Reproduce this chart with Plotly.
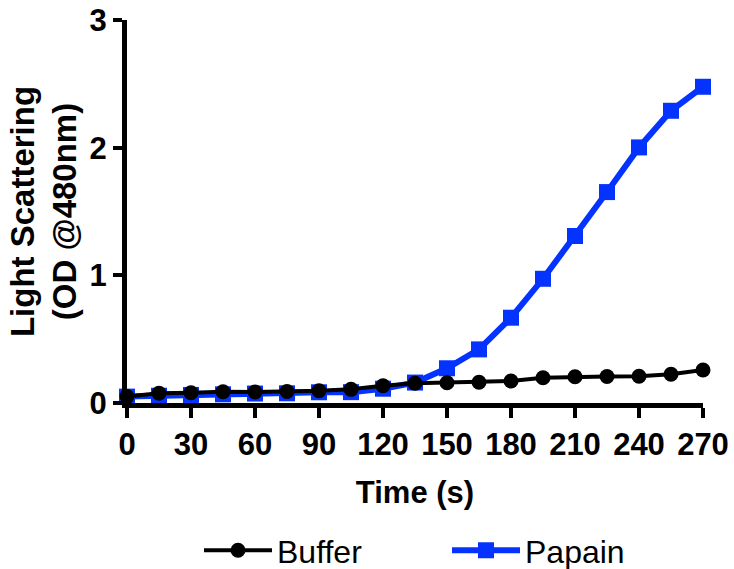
import plotly.graph_objects as go

# Time points (s) and light scattering readings (OD @480nm)
time_s = [0, 15, 30, 45, 60, 75, 90, 105, 120, 135, 150, 165, 180, 195, 210, 225, 240, 255, 270]
buffer_od = [0.05, 0.076, 0.08, 0.088, 0.086, 0.09, 0.096, 0.107, 0.135, 0.155, 0.159, 0.162,
             0.172, 0.198, 0.206, 0.207, 0.21, 0.225, 0.258]
papain_od = [0.05, 0.057, 0.063, 0.068, 0.074, 0.076, 0.084, 0.085, 0.112, 0.16, 0.272, 0.42,
             0.668, 0.973, 1.308, 1.652, 2.002, 2.289, 2.477]

x_ticks = [0, 30, 60, 90, 120, 150, 180, 210, 240, 270]
y_ticks = [0, 1, 2, 3]

BLUE = "#0433FF"
AXIS_FONT = "Liberation Sans, Arial, Helvetica, sans-serif"

fig = go.Figure()

fig.add_trace(go.Scatter(
    x=time_s, y=papain_od, name="Papain", mode="lines+markers",
    line=dict(color=BLUE, width=6),
    marker=dict(symbol="square", size=16, color=BLUE),
    cliponaxis=False, legendrank=2,
))
fig.add_trace(go.Scatter(
    x=time_s, y=buffer_od, name="Buffer", mode="lines+markers",
    line=dict(color="black", width=4),
    marker=dict(symbol="circle", size=15, color="black"),
    cliponaxis=False, legendrank=1,
))

fig.update_layout(
    width=734, height=569,
    margin=dict(l=127, r=31, t=20, b=166, autoexpand=False),
    paper_bgcolor="white", plot_bgcolor="white",
    font=dict(family=AXIS_FONT, color="black"),
    showlegend=True,
    legend=dict(
        orientation="h", x=0.125, xanchor="left", y=-0.385, yanchor="middle",
        font=dict(size=32, family=AXIS_FONT, color="black"),
        itemwidth=68, entrywidth=165, bgcolor="rgba(0,0,0,0)",
    ),
)

fig.update_xaxes(
    range=[0, 270], tickvals=x_ticks, ticktext=[str(v) for v in x_ticks],
    automargin=False,
    showline=True, linecolor="black", linewidth=5,
    ticks="outside", ticklen=10, tickwidth=4, tickcolor="black",
    showgrid=False, zeroline=False,
    tickfont=dict(size=31, family=AXIS_FONT, weight="bold"),
    title=dict(text="<b>Time (s)</b>", font=dict(size=31, family=AXIS_FONT), standoff=22),
)
fig.update_yaxes(
    range=[0, 3], tickvals=y_ticks, ticktext=[str(v) for v in y_ticks],
    automargin=False,
    showline=True, linecolor="black", linewidth=5,
    ticks="outside", ticklen=9, tickwidth=4, tickcolor="black",
    showgrid=False, zeroline=False,
    tickfont=dict(size=31, family=AXIS_FONT, weight="bold"),
    title=dict(text="<b>Light Scattering<br>(OD @480nm)</b>",
               font=dict(size=33, family=AXIS_FONT), standoff=4),
)

fig.write_html("out.html")
